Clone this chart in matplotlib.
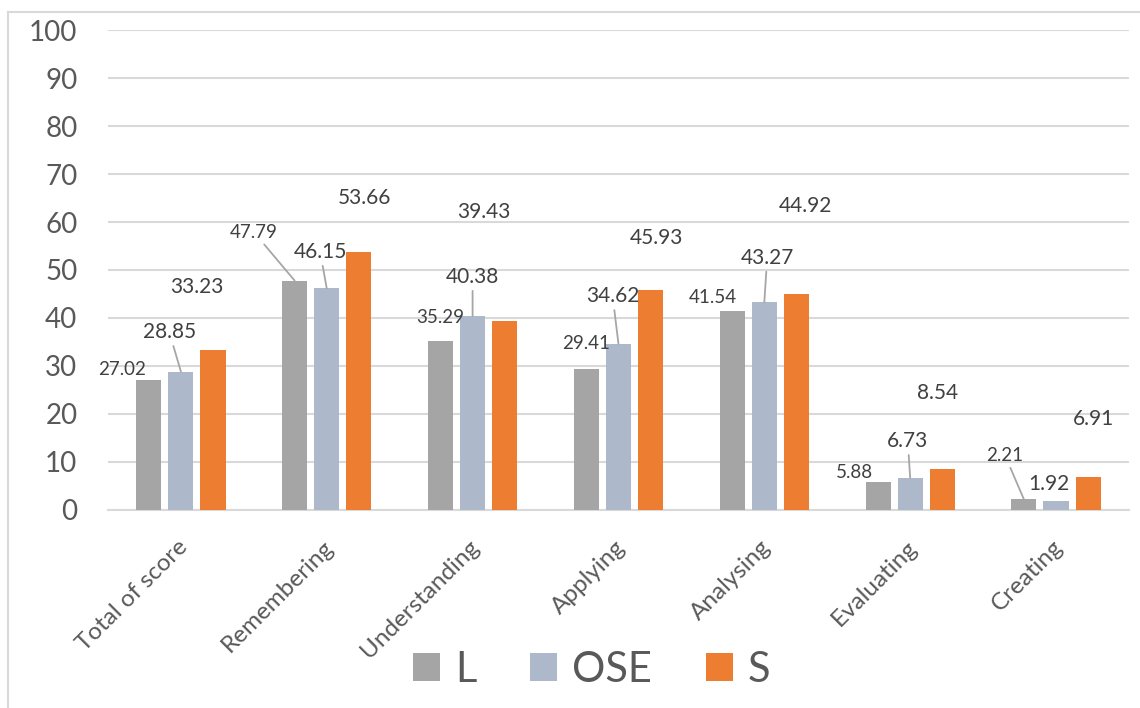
import numpy as np
import matplotlib.pyplot as plt
from matplotlib.patches import Patch
from matplotlib.lines import Line2D
import matplotlib.transforms as mtransforms

plt.rcParams["font.family"] = ["Lato", "DejaVu Sans"]

categories = ["Total of score", "Remembering", "Understanding", "Applying",
              "Analysing", "Evaluating", "Creating"]
series = ["L", "OSE", "S"]
L = [27.02, 47.79, 35.29, 29.41, 41.54, 5.88, 2.21]
OSE = [28.85, 46.15, 40.38, 34.62, 43.27, 6.73, 1.92]
S = [33.23, 53.66, 39.43, 45.93, 44.92, 8.54, 6.91]
values = [L, OSE, S]
colors = ["#A5A5A5", "#ADB9CA", "#ED7D31"]

# where each data label sits: (x offset from category centre, y in data units)
label_pos = [
    [(-0.40, 29.2), (-0.50, 57.9), (-0.22, 40.2), (-0.22, 34.6),
     (-0.35, 44.3), (-0.38, 7.9), (-0.35, 11.4)],
    [(-0.08, 37.1), (-0.045, 53.8), (0.0, 48.6), (-0.04, 44.6),
     (0.02, 52.6), (-0.016, 14.4), (-0.05, 5.4)],
    [(0.11, 46.5), (0.26, 65.0), (0.08, 62.1), (0.26, 56.7),
     (0.28, 63.3), (0.19, 24.3), (0.26, 19.0)],
]
# labels joined to their bar with a leader line
leaders = {(0, 1), (0, 6), (1, 0), (1, 1), (1, 2), (1, 3), (1, 4), (1, 5)}
label_size = [13.5, 15, 15]

fig = plt.figure(figsize=(11.4, 7.08), dpi=100)
ax = fig.add_axes([0.0947, 0.2797, 0.8956, 0.6779])

x = np.arange(len(categories))
step = 0.22
width = 0.172
for i, (vals, col) in enumerate(zip(values, colors)):
    xs = x + (i - 1) * step
    ax.bar(xs, vals, width, color=col, label=series[i], zorder=3)
    for j, v in enumerate(vals):
        dx, ly = label_pos[i][j]
        if (i, j) in leaders:
            ax.annotate(f"{v:.2f}", xy=(xs[j], v), xytext=(x[j] + dx, ly),
                        ha="center", va="center", fontsize=label_size[i],
                        color="#404040", zorder=4,
                        arrowprops=dict(arrowstyle="-", color="#A6A6A6",
                                        lw=1.3, shrinkA=1, shrinkB=0))
        else:
            ax.text(x[j] + dx, ly, f"{v:.2f}", ha="center", va="center",
                    fontsize=label_size[i], color="#404040", zorder=4)

ax.set_xlim(-0.5, len(categories) - 0.5)
ax.set_ylim(0, 100)
ax.set_yticks(range(0, 101, 10))
ax.yaxis.grid(True, color="#D9D9D9", lw=1.5, zorder=0)
for sp in ["top", "right", "left"]:
    ax.spines[sp].set_visible(False)
ax.spines["bottom"].set_color("#D9D9D9")
ax.spines["bottom"].set_linewidth(1.5)
ax.tick_params(axis="y", length=0, pad=22, labelsize=20, labelcolor="#595959")
ax.tick_params(axis="x", length=0, pad=19, labelsize=17.5, labelcolor="#595959")
ax.set_xticks(x)
ax.set_xticklabels(categories, rotation=45, ha="right", va="top",
                   rotation_mode="anchor")
shift = mtransforms.ScaledTranslation(-4 / 100, 0, fig.dpi_scale_trans)
for lab in ax.get_xticklabels():
    lab.set_transform(lab.get_transform() + shift)

handles = [Patch(facecolor=c, edgecolor="none") for c in colors]
leg = fig.legend(handles, series, loc="center", bbox_to_anchor=(0.519, 0.054),
                 ncol=3, frameon=False, fontsize=30, handlelength=0.65,
                 handleheight=0.65, handletextpad=0.35, columnspacing=1.3,
                 labelcolor="#595959")

# chart area border
fig.add_artist(Line2D([8 / 1140, 1], [1 - 12 / 708, 1 - 12 / 708],
                      transform=fig.transFigure, color="#D9D9D9", lw=1.5))
fig.add_artist(Line2D([8 / 1140, 8 / 1140], [0, 1 - 12 / 708],
                      transform=fig.transFigure, color="#D9D9D9", lw=1.5))

fig.savefig("out.png", dpi=100)
